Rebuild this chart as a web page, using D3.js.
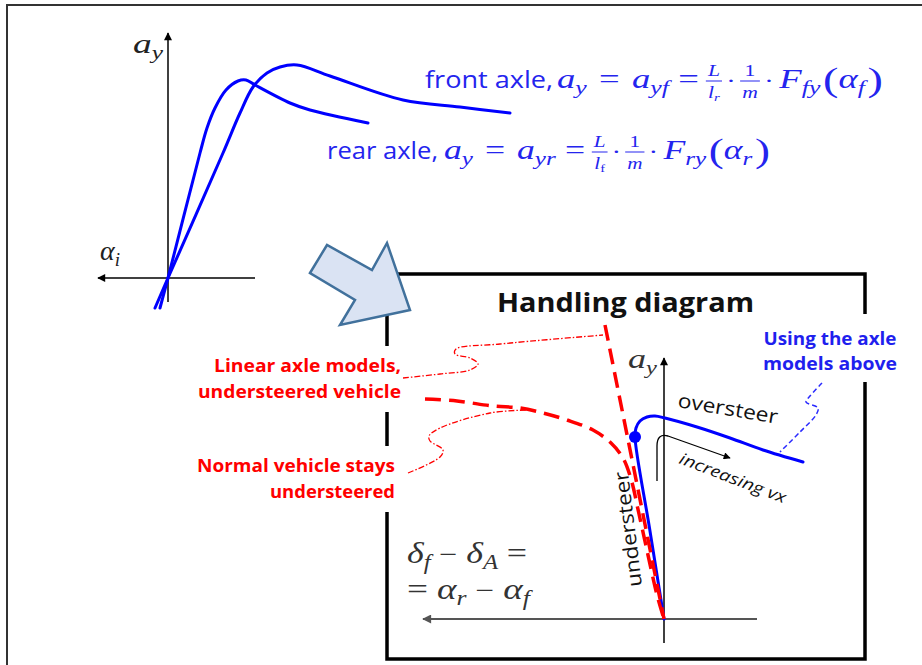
<!DOCTYPE html>
<html><head><meta charset="utf-8">
<script src="https://cdn.jsdelivr.net/npm/d3@7"></script>
<style>html,body{margin:0;padding:0;background:#fff;overflow:hidden}</style>
</head><body>
<svg id="c" width="922" height="665"></svg>
<script>
// ---------- data ----------
// top-left chart: lateral acceleration a_y vs slip angle alpha_i
const frontAxle = [[-1.3,-3.0],[0,0],[5.5,12.5],[7.2,16.5],[8.5,19.1],[9.9,20.5],[11.2,21.1],[12.9,21.3],[16.2,20.2],[23.5,17.8],[29.2,17.1],[34.2,16.5]];
const rearAxle  = [[-0.8,-3.0],[0,0],[3.2,12.5],[3.9,15.0],[4.7,17.0],[5.8,18.8],[7.0,19.7],[7.8,19.8],[8.7,19.3],[12.2,17.5],[14.2,16.8],[20.0,15.5]];
// handling diagram: a_y vs (delta_f - delta_A), positive to the left
const axleModelCurve = [[0,0],[1.45,9.1],[2.9,18.2],[2.8,19.1],[2.4,19.8],[1.7,20.2],[0.9,20.3],[-0.1,20.1],[-3.3,19.2],[-6.6,18.1],[-9.9,16.9],[-13.9,15.7]];
const linearUndersteer = [[5.9,29.4],[0,0]];
const normalUndersteer = [[23.9,22.0],[20.7,21.8],[17.1,21.3],[14.4,21.1],[12.1,20.6],[9.7,19.9],[7.1,18.9],[5.3,17.6],[4.1,16.1],[3.3,14.0],[2.5,10.5],[1.6,6.4],[0.7,2.4],[0,0]];
const operatingPoint = [2.9,18.2];
const redLabels = ["Linear axle models,","understeered vehicle","Normal vehicle stays","understeered"];
const blueLabels = ["Using the axle","models above"];

const BLUE = "#0000ff", TBLUE = "#2424ee", RED = "#ff0000", DARK = "#333";
const SANS = "'Open Sans'", SERIF = "'Liberation Serif'";
const svg = d3.select("#c");
svg.append("rect").attr("width",922).attr("height",665).attr("fill","#fff");

// markers
const defs = svg.append("defs");
function marker(id, color, w, h){
  defs.append("marker").attr("id",id).attr("viewBox","0 0 10 10").attr("refX",9).attr("refY",5)
    .attr("markerWidth",w).attr("markerHeight",h).attr("markerUnits","userSpaceOnUse").attr("orient","auto")
    .append("path").attr("d","M0,0L10,5L0,10z").attr("fill",color);
}
marker("arrK","#000",10,8);
marker("arrG","#555",12,9);
marker("arrS","#000",9,7);

// outer frame
svg.append("path").attr("d","M7,665V5H922").attr("fill","none").attr("stroke","#333").attr("stroke-width",2);

// ---------- text helpers ----------
function label(g, x, y, text, o){
  const t = g.append("text").attr("x",x).attr("y",y).text(text).attr("fill",o.fill||"#111")
    .attr("text-anchor",o.anchor||"start")
    .style("font-family",SANS).style("font-size",o.size+"px")
    .style("font-weight",o.weight||"normal").style("font-style",o.style||"normal");
  if (o.len) t.attr("textLength",o.len).attr("lengthAdjust","spacingAndGlyphs");
  if (o.rot!==undefined) t.attr("x",null).attr("y",null).attr("transform",`translate(${x},${y}) rotate(${o.rot})`);
  return t;
}
function run(g, x, y, parts, color){
  let cx = x;
  for (const p of parts){
    if (p.frac){
      const gn = g.append("g"), gd = g.append("g");
      const wn = run(gn,0,0,p.frac[0],color), wd = run(gd,0,0,p.frac[1],color);
      const w = Math.max(wn,wd)+3;
      gn.attr("transform",`translate(${cx+(w-wn)/2},${y+p.ny})`);
      gd.attr("transform",`translate(${cx+(w-wd)/2},${y+p.dy})`);
      g.append("line").attr("x1",cx).attr("x2",cx+w).attr("y1",y+p.by).attr("y2",y+p.by).attr("stroke",color).attr("stroke-width",1);
      cx += w + (p.gap||0);
    } else {
      const t = g.append("text").attr("x",cx).attr("y",y+(p.dy||0)).text(p.t).attr("fill",color)
        .style("font-family", SERIF)
        .style("font-style", p.f==="it" ? "italic" : "normal")
        .style("font-size", p.s+"px");
      cx += t.node().getComputedTextLength() + (p.gap||0);
    }
  }
  return cx - x;
}
function mathFit(parent, x, y, width, parts, color){
  const g = parent.append("g");
  const w = run(g, x, y, parts, color);
  const k = width / w;
  g.attr("transform",`translate(${x},0) scale(${k},1) translate(${-x},0)`);
  return g;
}
const it = (t,s,o={}) => Object.assign({t,f:"it",s},o);
const rm = (t,s,o={}) => Object.assign({t,f:"rm",s},o);

// ---------- top-left chart ----------
const tx = d3.scaleLinear().domain([0,10]).range([168,268]);
const ty = d3.scaleLinear().domain([0,10]).range([278,178]);
const topG = svg.append("g");
topG.append("line").attr("x1",tx(0)).attr("x2",tx(0)).attr("y1",ty(-2.4)).attr("y2",ty(24.5))
  .attr("stroke","#000").attr("stroke-width",1.5).attr("marker-end","url(#arrK)");
topG.append("line").attr("x1",tx(8.7)).attr("x2",tx(-7)).attr("y1",ty(0)).attr("y2",ty(0))
  .attr("stroke","#000").attr("stroke-width",1.5).attr("marker-end","url(#arrK)");
const tline = d3.line().x(d=>tx(d[0])).y(d=>ty(d[1])).curve(d3.curveCatmullRom.alpha(0.5));
[frontAxle, rearAxle].forEach(s => topG.append("path").attr("d",tline(s)).attr("fill","none")
  .attr("stroke",BLUE).attr("stroke-width",3).attr("stroke-linecap","round"));
mathFit(topG, 133, 53, 30, [it("a",28), it("y",19,{dy:6})], "#222");
mathFit(topG, 100, 260, 20, [it("α",28), it("i",19,{dy:6})], "#222");

// equations
function eqParts(sub, fsub, Fsub, asub){
  return [
    it("a",27), it("y",19,{dy:6,gap:9}), rm("=",27,{gap:9}),
    it("a",27), it(sub,19,{dy:6,gap:7}), rm("=",27,{gap:5}),
    {frac:[[it("L",16)],[it("l",16),fsub]], ny:-12, dy:10, by:-7, gap:3},
    rm("·",22,{gap:3}),
    {frac:[[rm("1",16)],[it("m",16)]], ny:-12, dy:10, by:-7, gap:3},
    rm("·",22,{gap:4}),
    it("F",27), it(Fsub,19,{dy:6,gap:2}), rm("(",34,{dy:3}), it("α",27), it(asub,19,{dy:6,gap:2}), rm(")",34,{dy:3})
  ];
}
const eqG = svg.append("g");
label(eqG, 425, 88, "front axle,", {size:23, fill:TBLUE, len:128});
mathFit(eqG, 557, 88, 326, eqParts("yf", it("r",11,{dy:3}), "fy", "f"), TBLUE);
label(eqG, 327, 159, "rear axle,", {size:23, fill:TBLUE, len:111});
mathFit(eqG, 444, 159, 326, eqParts("yr", rm("f",11,{dy:3}), "ry", "r"), TBLUE);

// ---------- handling diagram ----------
const hx = d3.scaleLinear().domain([0,10]).range([664,564]);
const hy = d3.scaleLinear().domain([0,10]).range([619,519]);
const hd = svg.append("g");
hd.append("rect").attr("x",387).attr("y",274).attr("width",478).attr("height",385)
  .attr("fill","none").attr("stroke","#000").attr("stroke-width",3.5);
// label backgrounds (break the frame)
[[190,346,216,66],[190,446,216,66],[756,314,148,68]].forEach(r=>hd.append("rect")
  .attr("x",r[0]).attr("y",r[1]).attr("width",r[2]).attr("height",r[3]).attr("fill","#fff"));
label(hd, 497, 312, "Handling diagram", {size:27, weight:"bold", len:257});
const redW = [187,203,198,125];
redLabels.forEach((t,i)=>label(hd, i<2?401:395, [372,398,472,498][i], t,
  {size:18.5, weight:"bold", fill:RED, anchor:"end", len:redW[i]}));
const blueW = [133,134];
blueLabels.forEach((t,i)=>label(hd, 830, [345,370][i], t,
  {size:18.5, weight:"bold", fill:"#1f1fee", anchor:"middle", len:blueW[i]}));

// axes
hd.append("line").attr("x1",hx(-9.3)).attr("x2",hx(24.1)).attr("y1",hy(0)).attr("y2",hy(0))
  .attr("stroke","#555").attr("stroke-width",2).attr("marker-end","url(#arrG)");
hd.append("line").attr("x1",hx(0)).attr("x2",hx(0)).attr("y1",hy(-2.4)).attr("y2",hy(26.1))
  .attr("stroke","#000").attr("stroke-width",1.5).attr("marker-end","url(#arrK)");
mathFit(hd, 628, 368, 29, [it("a",28), it("y",19,{dy:6})], DARK);

// leaders
const pl = d3.line().curve(d3.curveCatmullRom.alpha(0.5));
hd.append("path").attr("d",pl([[403,378],[440,374],[470,370],[478,364],[470,358],[455,354],[456,349],[500,344],[603,335]]))
  .attr("fill","none").attr("stroke",RED).attr("stroke-width",1.3).attr("stroke-dasharray","6,2,1.5,2");
hd.append("path").attr("d",pl([[408,473],[440,457],[443,450],[430,441],[429,436],[440,428],[490,413],[527,410]]))
  .attr("fill","none").attr("stroke",RED).attr("stroke-width",1.3).attr("stroke-dasharray","6,2,1.5,2");
hd.append("path").attr("d",pl([[822,383],[810,396],[806,402],[818,408],[816,415],[800,432],[780,452]]))
  .attr("fill","none").attr("stroke","#2a2aff").attr("stroke-width",1.5).attr("stroke-dasharray","5,3");

// curves
const hline = d3.line().x(d=>hx(d[0])).y(d=>hy(d[1])).curve(d3.curveCatmullRom.alpha(0.5));
hd.append("path").attr("d",hline(axleModelCurve)).attr("fill","none").attr("stroke",BLUE)
  .attr("stroke-width",3).attr("stroke-linecap","round");
hd.append("circle").attr("cx",hx(operatingPoint[0])).attr("cy",hy(operatingPoint[1])).attr("r",6).attr("fill",BLUE);
[linearUndersteer, normalUndersteer].forEach(s=>hd.append("path").attr("d",hline(s)).attr("fill","none")
  .attr("stroke",RED).attr("stroke-width",3.5).attr("stroke-dasharray","16,8"));

// annotations
label(hd, 677, 407, "oversteer", {size:20, rot:9.5, len:101});
label(hd, 678, 463, "increasing vx", {size:16, style:"italic", rot:21, len:113});
label(hd, 642, 586, "understeer", {size:20, rot:-97, len:116});
hd.append("path").attr("d","M657,481V446Q657,433,668,436L730,458").attr("fill","none")
  .attr("stroke","#000").attr("stroke-width",1.3).attr("marker-end","url(#arrS)");
mathFit(hd, 407, 563, 120, [it("δ",29), it("f",20,{dy:6,gap:7}), rm("−",26,{gap:7}), it("δ",29), it("A",20,{dy:6,gap:7}), rm("=",29)], DARK);
mathFit(hd, 407, 599, 123, [rm("=",29,{gap:7}), it("α",29), it("r",20,{dy:6,gap:7}), rm("−",26,{gap:7}), it("α",29), it("f",20,{dy:6})], DARK);

// block arrow
const blockArrow = [[310,273],[327,245],[372,270],[387,243],[410,310],[340,325],[355,300]];
svg.append("path").attr("d",d3.line()(blockArrow)+"Z").attr("fill","#dae3f3").attr("stroke","#41719c")
  .attr("stroke-width",2.5).attr("stroke-linejoin","miter");
</script>
</body></html>
